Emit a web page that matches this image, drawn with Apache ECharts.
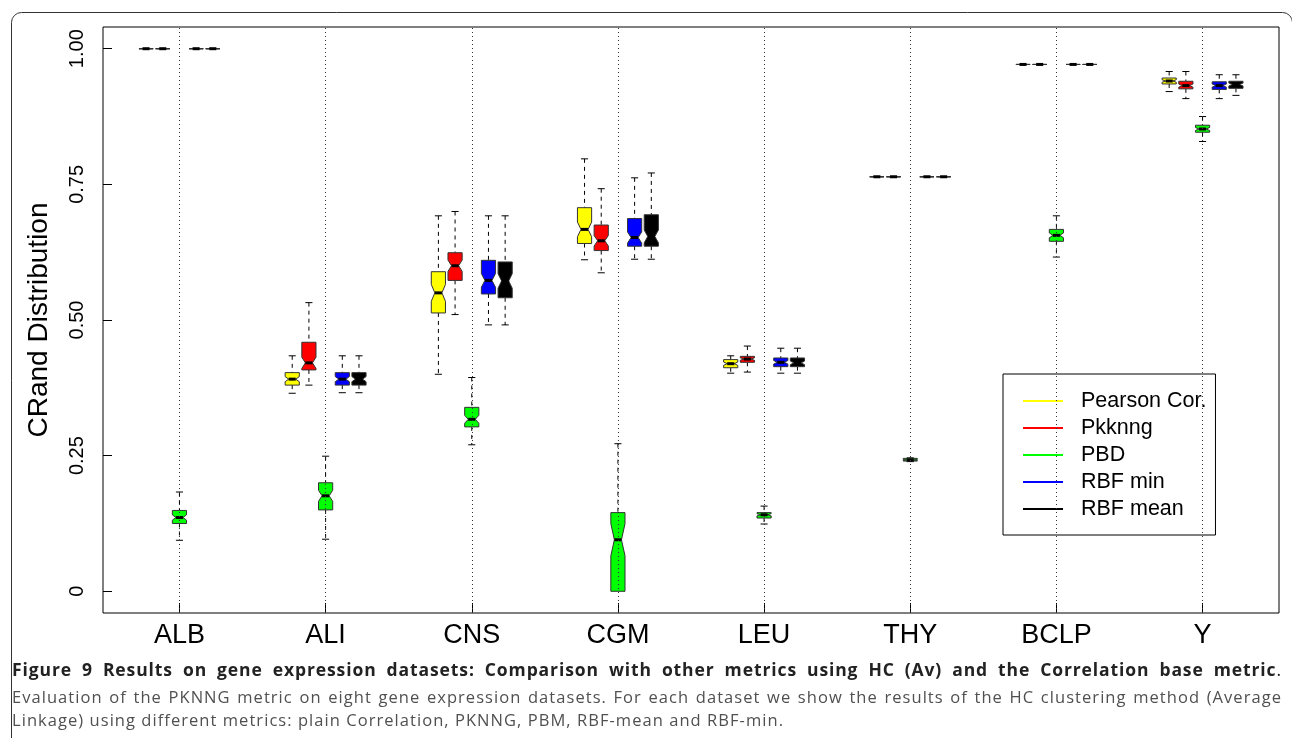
<!DOCTYPE html>
<html><head><meta charset="utf-8">
<script src="https://cdn.jsdelivr.net/npm/echarts@6/dist/echarts.min.js"></script>
<style>
html,body{margin:0;padding:0;background:#fff}
#wrap{position:relative;width:1292px;height:738px;overflow:hidden}
#c{position:absolute;left:0;top:0;width:1292px;height:738px}
.cap{position:absolute;left:12px;width:1270px;font-family:"Open Sans",sans-serif;white-space:nowrap}
.just{text-align:justify;text-align-last:justify}
#t1{top:658px;font-size:17.5px;line-height:22.5px;font-weight:bold;color:#222;letter-spacing:0.9px}
#t1 .dot{font-weight:normal}
#t2,#t3{font-size:16.5px;line-height:22.5px;color:#505050;letter-spacing:1.05px}
#t2{top:686px}
#t3{top:708.5px}
</style>
</head><body><div id="wrap"><div id="c"></div>
<div class="cap just" id="t1">Figure 9 Results on gene expression datasets: Comparison with other metrics using HC (Av) and the Correlation base metric<span class="dot">.</span></div>
<div class="cap just" id="t2">Evaluation of the PKNNG metric on eight gene expression datasets. For each dataset we show the results of the HC clustering method (Average</div>
<div class="cap" id="t3">Linkage) using different metrics: plain Correlation, PKNNG, PBM, RBF-mean and RBF-min.</div>
</div>
<script>
// ---- data ----
const categories = ['ALB', 'ALI', 'CNS', 'CGM', 'LEU', 'THY', 'BCLP', 'Y'];
const seriesNames = ['Pearson Cor.', 'Pkknng', 'PBD', 'RBF min', 'RBF mean'];
const yTickValues = [0, 0.25, 0.5, 0.75, 1];
// each row: [lower whisker, Q1, median, Q3, upper whisker], one row per dataset
const pearson = [
  [1, 1, 1, 1, 1],
  [0.365, 0.380, 0.391, 0.403, 0.434],
  [0.400, 0.513, 0.550, 0.589, 0.692],
  [0.611, 0.641, 0.667, 0.707, 0.797],
  [0.402, 0.412, 0.4195, 0.427, 0.434],
  [0.764, 0.764, 0.764, 0.764, 0.764],
  [0.971, 0.971, 0.971, 0.971, 0.971],
  [0.921, 0.935, 0.9405, 0.946, 0.958]
];
const pkknng = [
  [1, 1, 1, 1, 1],
  [0.380, 0.408, 0.421, 0.459, 0.532],
  [0.510, 0.573, 0.600, 0.624, 0.700],
  [0.587, 0.628, 0.646, 0.675, 0.742],
  [0.404, 0.422, 0.428, 0.433, 0.452],
  [0.764, 0.764, 0.764, 0.764, 0.764],
  [0.971, 0.971, 0.971, 0.971, 0.971],
  [0.908, 0.926, 0.932, 0.940, 0.958]
];
const pbd = [
  [0.094, 0.125, 0.136, 0.149, 0.183],
  [0.096, 0.150, 0.176, 0.200, 0.249],
  [0.270, 0.303, 0.317, 0.339, 0.394],
  [0.000, 0.000, 0.095, 0.145, 0.272],
  [0.124, 0.135, 0.141, 0.145, 0.157],
  [0.239, 0.240, 0.242, 0.245, 0.246],
  [0.616, 0.645, 0.656, 0.667, 0.692],
  [0.829, 0.846, 0.852, 0.859, 0.875]
];
const rbfMin = [
  [1, 1, 1, 1, 1],
  [0.366, 0.380, 0.391, 0.403, 0.434],
  [0.491, 0.548, 0.573, 0.610, 0.692],
  [0.612, 0.636, 0.652, 0.687, 0.762],
  [0.402, 0.414, 0.422, 0.430, 0.448],
  [0.764, 0.764, 0.764, 0.764, 0.764],
  [0.971, 0.971, 0.971, 0.971, 0.971],
  [0.908, 0.925, 0.932, 0.939, 0.952]
];
const rbfMean = [
  [1, 1, 1, 1, 1],
  [0.366, 0.380, 0.391, 0.403, 0.434],
  [0.491, 0.541, 0.572, 0.607, 0.692],
  [0.612, 0.636, 0.654, 0.694, 0.771],
  [0.402, 0.414, 0.421, 0.430, 0.448],
  [0.764, 0.764, 0.764, 0.764, 0.764],
  [0.971, 0.971, 0.971, 0.971, 0.971],
  [0.914, 0.927, 0.934, 0.940, 0.952]
];
const SAMPLE_SIZE = 60; // assumed runs per box, used for notch extent (R: 1.58*IQR/sqrt(n))

const allSeries = [pearson, pkknng, pbd, rbfMin, rbfMean];
const colors = ['#FFFF00', '#FF0000', '#00FF00', '#0000FF', '#000000'];

// ---- layout ----
const BOX_STEP = 0.1142;   // offset between boxes within a group (axis units)
const BOX_HALF = 0.0485;   // half box width (axis units)
const NOTCH_K = 1.58 / Math.sqrt(SAMPLE_SIZE);

function makeRender(k) {
  return function (params, api) {
    const g = api.value(0);
    const lo = api.value(1), q1 = api.value(2), med = api.value(3), q3 = api.value(4), hi = api.value(5);
    const xc = g + (k - 2) * BOX_STEP;
    const L = xc - BOX_HALF, R = xc + BOX_HALF, nIn = BOX_HALF * 0.5;
    const nh = NOTCH_K * (q3 - q1);
    const P = (x, y) => api.coord([x, y]);
    const pts = [[L, q1], [R, q1], [R, med - nh], [R - nIn, med], [R, med + nh], [R, q3],
                 [L, q3], [L, med + nh], [L + nIn, med], [L, med - nh]].map(p => P(p[0], p[1]));
    const c = P(xc, 0)[0];
    const yHi = P(xc, hi)[1], yQ3 = P(xc, q3)[1], yQ1 = P(xc, q1)[1], yLo = P(xc, lo)[1];
    const capHalf = (P(R, 0)[0] - P(L, 0)[0]) / 4;
    const children = [];
    const dash = { stroke: '#000', lineWidth: 1, lineDash: [4, 4] };
    const solid = { stroke: '#000', lineWidth: 1 };
    if (yQ3 - yHi > 0.5) {
      children.push({ type: 'line', shape: { x1: c, y1: yHi, x2: c, y2: yQ3 }, style: dash });
      children.push({ type: 'line', shape: { x1: c - capHalf, y1: yHi, x2: c + capHalf, y2: yHi }, style: solid });
    }
    if (yLo - yQ1 > 0.5) {
      children.push({ type: 'line', shape: { x1: c, y1: yQ1, x2: c, y2: yLo }, style: dash });
      children.push({ type: 'line', shape: { x1: c - capHalf, y1: yLo, x2: c + capHalf, y2: yLo }, style: solid });
    }
    children.push({ type: 'polygon', shape: { points: pts },
      style: { fill: api.visual('color'), stroke: '#333', lineWidth: 1 } });
    const m1 = P(L + nIn, med), m2 = P(R - nIn, med);
    children.push({ type: 'line', shape: { x1: m1[0], y1: m1[1], x2: m2[0], y2: m2[1] },
      style: { stroke: '#000', lineWidth: 3 } });
    return { type: 'group', children: children };
  };
}

const series = allSeries.map((arr, k) => ({
  name: seriesNames[k],
  type: 'custom',
  renderItem: makeRender(k),
  itemStyle: { color: colors[k] },
  encode: { x: 0, y: [1, 2, 3, 4, 5] },
  data: arr.map((row, i) => [i + 1].concat(row)),
  z: 3
}));
// dotted vertical guide lines at each dataset
series.push({
  type: 'line', data: [], silent: true,
  markLine: {
    silent: true, symbol: ['none', 'none'], label: { show: false },
    lineStyle: { color: '#333', width: 1, type: [1, 3] },
    data: categories.map((c, i) => ({ xAxis: i + 1 }))
  },
  z: 1
});

const chart = echarts.init(document.getElementById('c'), null, { renderer: 'canvas' });
chart.setOption({
  animation: false,
  backgroundColor: 'transparent',
  grid: { left: 103, right: 13, top: 27, bottom: 125, show: true, borderColor: '#000', borderWidth: 1, backgroundColor: 'transparent' },
  xAxis: {
    type: 'value', min: 0.477, max: 8.523,
    axisLine: { show: false, onZero: false },
    splitLine: { show: false },
    axisTick: { show: true, inside: true, length: 10, customValues: categories.map((c, i) => i + 1), lineStyle: { color: '#000' } },
    axisLabel: {
      customValues: categories.map((c, i) => i + 1),
      formatter: v => categories[Math.round(v) - 1] || '',
      fontFamily: 'Liberation Sans', fontSize: 27, color: '#000', margin: 9
    }
  },
  yAxis: {
    type: 'value', min: -0.04, max: 1.04,
    name: 'CRand Distribution', nameLocation: 'middle', nameRotate: 90, nameGap: 50,
    nameTextStyle: { fontFamily: 'Liberation Sans', fontSize: 28, color: '#000' },
    axisLine: { show: false, onZero: false },
    splitLine: { show: false },
    axisTick: { show: true, inside: true, length: 9, customValues: yTickValues, lineStyle: { color: '#000' } },
    axisLabel: {
      customValues: yTickValues, rotate: 90,
      formatter: v => (v === 0 ? '0' : v.toFixed(2)),
      fontFamily: 'Liberation Sans', fontSize: 20, color: '#000', margin: 16
    }
  },
  legend: {
    data: seriesNames,
    orient: 'vertical', left: 1003, top: 374,
    backgroundColor: '#fff', borderColor: '#000', borderWidth: 1, borderRadius: 0,
    padding: [16, 9, 15, 20], itemGap: 5,
    icon: 'rect', itemWidth: 40, itemHeight: 2,
    textStyle: { fontFamily: 'Liberation Sans', fontSize: 21.5, lineHeight: 21, color: '#000', padding: [0, 0, 0, 13] }
  },
  graphic: [
    { type: 'rect', left: 9, top: 10, shape: { width: 1281, height: 780, r: 10 }, style: { fill: 'none', stroke: '#333', lineWidth: 1 }, silent: true }
  ],
  series: series
});
</script></body></html>
